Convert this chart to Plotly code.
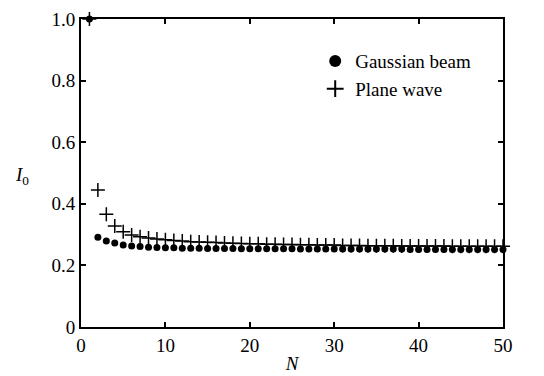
import plotly.graph_objects as go

N = list(range(1, 51))
gaussian = [1.0, 0.291, 0.279, 0.273, 0.266, 0.263, 0.261, 0.259, 0.258, 0.257,
            0.257, 0.256, 0.256, 0.256, 0.255, 0.255, 0.255, 0.255, 0.254, 0.254,
            0.254, 0.254, 0.254, 0.254, 0.254, 0.253, 0.253, 0.253, 0.253, 0.253,
            0.253, 0.253, 0.253, 0.253, 0.253, 0.253, 0.253, 0.253, 0.252, 0.252,
            0.252, 0.252, 0.252, 0.252, 0.252, 0.252, 0.252, 0.252, 0.252, 0.252]
plane = [1.0, 0.445, 0.366, 0.328, 0.309, 0.299, 0.293, 0.289, 0.286, 0.283,
         0.281, 0.279, 0.277, 0.276, 0.275, 0.274, 0.273, 0.272, 0.271, 0.270,
         0.270, 0.269, 0.269, 0.268, 0.268, 0.267, 0.267, 0.266, 0.266, 0.266,
         0.265, 0.265, 0.265, 0.264, 0.264, 0.264, 0.264, 0.263, 0.263, 0.263,
         0.263, 0.263, 0.263, 0.262, 0.262, 0.262, 0.262, 0.262, 0.262, 0.262]

xticks = [0, 10, 20, 30, 40, 50]
yticks = [0, 0.2, 0.4, 0.6, 0.8, 1.0]
ytick_labels = ["0", "0.2", "0.4", "0.6", "0.8", "1.0"]

SERIF = "Liberation Serif"
FS = 19

fig = go.Figure()
fig.add_trace(go.Scatter(x=N, y=gaussian, mode="markers", name="Gaussian beam",
                         legendgroup="g",
                         marker=dict(symbol="circle", size=7, color="black"),
                         cliponaxis=False))
fig.add_trace(go.Scatter(x=N, y=plane, mode="markers", name="Plane wave",
                         legendgroup="p",
                         marker=dict(symbol="cross-thin", size=10, color="black",
                                     line=dict(width=1.5, color="black")),
                         cliponaxis=False))

fig.update_xaxes(range=[0, 50], tickvals=xticks,
                 showline=True, linecolor="black", linewidth=2, mirror="ticks",
                 ticks="inside", ticklen=5, tickwidth=1.5, tickcolor="black",
                 showgrid=False, zeroline=False, automargin=False,
                 tickfont=dict(family=SERIF, size=FS, color="black"),
                 title=dict(text="<i>N</i>", font=dict(family=SERIF, size=FS, color="black"),
                            standoff=2))
fig.update_yaxes(range=[0, 1.0], tickvals=yticks, ticktext=ytick_labels,
                 showline=True, linecolor="black", linewidth=2, mirror="ticks",
                 ticks="inside", ticklen=5, tickwidth=1.5, tickcolor="black",
                 showgrid=False, zeroline=False, automargin=False,
                 tickfont=dict(family=SERIF, size=FS, color="black"))

fig.add_annotation(xref="paper", yref="paper", x=-0.14, y=0.49, xanchor="center",
                   yanchor="middle", showarrow=False,
                   text="<i>I</i><sub>0</sub>",
                   font=dict(family=SERIF, size=FS, color="black"))

fig.update_layout(width=544, height=376,
                  margin=dict(l=73, r=49, t=11, b=57),
                  plot_bgcolor="white", paper_bgcolor="white",
                  legend=dict(x=0.555, y=0.925, xanchor="left", yanchor="top",
                              bgcolor="rgba(0,0,0,0)", traceorder="grouped",
                              font=dict(family=SERIF, size=FS, color="black"),
                              itemsizing="constant", tracegroupgap=0))

fig.write_html("out.html")
